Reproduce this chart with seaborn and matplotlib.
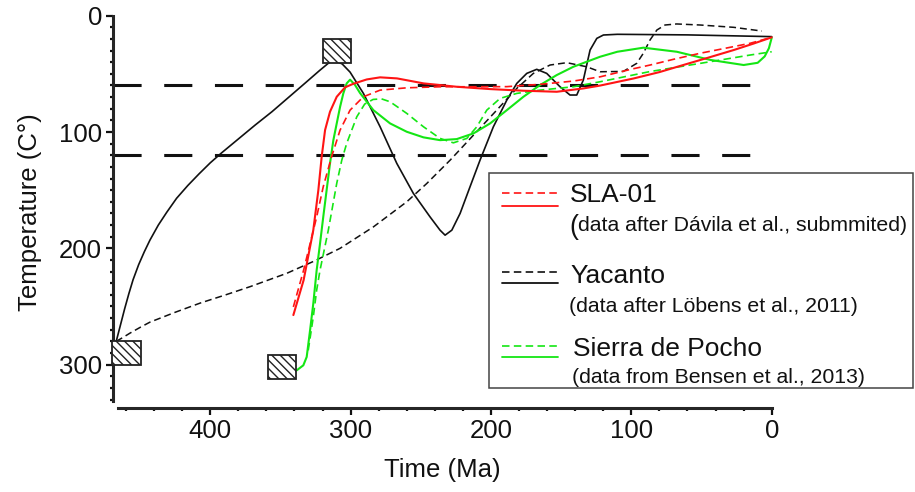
import matplotlib
matplotlib.use("Agg")
import matplotlib.pyplot as plt
from matplotlib.patches import Rectangle
from matplotlib.lines import Line2D
from matplotlib.ticker import MultipleLocator
import pandas as pd
import seaborn as sns

# t-T paths: time (Ma) and temperature (C)
sla_dash_t = [340.8, 333.5, 324.2, 319.5, 313.5, 307.5, 300.4, 290.9, 279, 260, 236.3, 212.5, 188.7, 165, 141.3, 122, 100, 86.6, 70, 51, 33, 15.3, 0]
sla_dash_T = [250.4, 218.8, 173, 147, 121, 98.3, 81.2, 69.7, 64, 62, 61.1, 61.1, 61, 59, 56.2, 52.5, 46, 42.4, 37.5, 32.3, 28, 23.7, 18.6]

sla_sol_t = [340.8, 333.5, 326.6, 323, 320.6, 318.2, 314.7, 309.9, 304, 298, 288.5, 279, 267, 248, 224.4, 200.6, 176.9, 153.1, 134, 122, 98.5, 80, 63, 45, 27, 13, 0]
sla_sol_T = [257.4, 227.4, 184.4, 150, 121, 98.3, 82.6, 69.7, 61.6, 58.5, 54.8, 53, 53.9, 58.2, 61.1, 63.1, 64.5, 65.4, 62.5, 60, 54, 48.5, 42.4, 36, 29.5, 24, 18.6]

yac_dash_t = [467, 462, 457.3, 450, 443, 425, 407, 389, 371.7, 345.5, 326, 307.5, 283.8, 260, 245.7, 229.1, 212.5, 195.9, 181.6, 169.8, 157.9, 146, 131.8, 122.3, 105.7, 96.2, 91.5, 86.7, 81.8, 76, 67.7, 51, 27, 7]
yac_dash_T = [280, 276.5, 273, 268, 263.5, 255, 247, 240, 233, 221.5, 211, 200, 181.6, 160, 144.2, 124.2, 102.7, 81.2, 62.5, 49.6, 42.4, 40.4, 43.9, 48.2, 47.9, 41, 32.4, 20.9, 12.3, 8, 7.1, 8, 10, 13.2]

yac_sol_t = [467, 464, 461, 458, 455, 451, 447, 443, 437, 431, 424, 416, 408, 400, 392, 380, 368, 356, 344, 332, 322, 316, 312, 306, 300.4, 290.9, 279, 267.1, 255.3, 243.4, 236.3, 232.7, 227.9, 222, 214.9, 207.8, 198.3, 188.7, 181.6, 174.5, 167.4, 160.3, 150.8, 143.7, 138.9, 134.2, 129.4, 124.6, 119.9, 110, 60, 0]
yac_sol_T = [280, 266, 252, 239, 227, 214, 203, 193, 180, 169, 157, 146, 136, 126.5, 118, 106, 94, 82.5, 70, 57.5, 47, 41, 38, 41.5, 48.5, 66.8, 95.5, 127, 152.8, 173, 184.4, 188.7, 184.4, 170, 147, 124.2, 95.5, 72.5, 58.2, 49.6, 46.1, 49.6, 61.1, 68.2, 68.2, 55.3, 29.5, 19.5, 16.6, 16, 16.5, 18]

poc_dash_t = [330.2, 326.6, 324.2, 321.8, 315.9, 309.9, 306.3, 302.8, 295.6, 290, 284, 278, 271.9, 260, 248.1, 236.3, 226.8, 217.2, 210.1, 203, 193.5, 181.6, 165, 141.3, 122.3, 86.6, 51, 15.3, 0]
poc_dash_T = [287.7, 259, 236, 218.8, 184.4, 144.2, 124.2, 109.8, 86.9, 76, 72, 71.5, 74, 84, 95.5, 105.5, 109.3, 105.5, 95.5, 81.2, 71.1, 66.8, 64, 61.1, 56.8, 48, 41, 33.8, 31]

poc_sol_t = [338.4, 333.7, 331.3, 328.9, 326.6, 324.2, 321.8, 319.5, 317.1, 314.7, 312.3, 309.9, 307.5, 305.2, 302.8, 300.4, 296.9, 293.3, 283.8, 271.9, 260, 248.1, 236.3, 224.4, 212.5, 200.6, 188.7, 176.9, 165, 153.1, 141.3, 122.3, 110, 91.4, 67.6, 43.8, 20, 10, 5, 2, 0]
poc_sol_T = [304.9, 300.6, 293.4, 270.5, 247.5, 218.8, 195.9, 173, 150, 127, 107, 92.6, 78.3, 66.8, 58.2, 55, 59.5, 66.5, 81.2, 92.6, 99.8, 104.6, 107, 106.1, 101.2, 92.6, 81.2, 69.7, 59.6, 51, 43.9, 35.3, 31, 27.5, 31, 38, 42.4, 40.5, 35, 28, 19]

# hatched constraint boxes (centre time, centre temperature)
box_t = [459.7, 349, 309.7]
box_T = [290.3, 302, 30.3]
box_w, box_h = 20, 20.5

# reference isotherms
iso_T = [60, 120]
iso_span = [469.3, 10.5]

RED = "#ff1414"
GREEN = "#14e614"
BLACK = "#111111"

sns.set_theme(style="ticks")
plt.rcParams["font.family"] = ["Liberation Sans", "DejaVu Sans"]
plt.rcParams["hatch.linewidth"] = 1.0

W, H = 915, 492
fig = plt.figure(figsize=(W / 100, H / 100), dpi=100)
ax = fig.add_axes([113 / W, 1 - 408 / H, (771.7 - 113) / W, (408 - 15.7) / H])

for T in iso_T:
    ax.plot(iso_span, [T, T], color=BLACK, lw=2.2, dashes=(9.2, 7.4), zorder=1)

series = [
    (yac_dash_t, yac_dash_T, BLACK, True, 1.1),
    (yac_sol_t, yac_sol_T, BLACK, False, 1.2),
    (poc_dash_t, poc_dash_T, GREEN, True, 1.2),
    (poc_sol_t, poc_sol_T, GREEN, False, 1.5),
    (sla_dash_t, sla_dash_T, RED, True, 1.2),
    (sla_sol_t, sla_sol_T, RED, False, 1.5),
]
for t, T, col, dashed, lw in series:
    df = pd.DataFrame({"t": t, "T": T})
    sns.lineplot(data=df, x="t", y="T", ax=ax, sort=False, estimator=None,
                 color=col, lw=lw, zorder=3, clip_on=False)
    if dashed:
        ax.lines[-1].set_dashes((4.5, 2.6))

for t, T in zip(box_t, box_T):
    ax.add_patch(Rectangle((t + box_w / 2, T + box_h / 2), -box_w, -box_h,
                           facecolor="white", edgecolor="#222222", lw=1.3,
                           hatch="\\\\\\\\", zorder=5, clip_on=False))

ax.set_xlim(469.3, 0)
ax.set_ylim(337.3, 0)
ax.set_xticks([400, 300, 200, 100, 0])
ax.set_yticks([0, 100, 200, 300])
ax.xaxis.set_minor_locator(MultipleLocator(20))
ax.yaxis.set_minor_locator(MultipleLocator(10))
ax.spines["top"].set_visible(False)
ax.spines["right"].set_visible(False)
ax.spines["left"].set_linewidth(2.2)
ax.spines["bottom"].set_linewidth(2.2)
ax.spines["bottom"].set_bounds(466, 0)
ax.spines["left"].set_bounds(0, 331.5)
ax.tick_params(which="major", length=5, width=1.6, labelsize=18.5, pad=3, color=BLACK, labelcolor=BLACK)
ax.tick_params(which="minor", length=2.5, width=1.6, color=BLACK)
ax.set_xlabel("Time (Ma)", fontsize=18.5, labelpad=11, color=BLACK)
ax.set_ylabel("Temperature (C°)", fontsize=18.5, labelpad=12, color=BLACK)
ax.grid(False)

# hand-built legend in pixel coordinates
ov = fig.add_axes([0, 0, 1, 1], zorder=10)
ov.set_xlim(0, W)
ov.set_ylim(H, 0)
ov.axis("off")
ov.patch.set_alpha(0)
ov.add_patch(Rectangle((489, 173), 424, 215, facecolor="white", edgecolor="#444444", lw=1.1))

entries = [
    (RED, 193.3, 205.7, "SLA-01", 201.7, "data after Dávila et al., submmited)", 231),
    (BLACK, 272.3, 283.3, "Yacanto", 283.3, "(data after Löbens et al., 2011)", 311.7),
    (GREEN, 346, 357.3, "Sierra de Pocho", 356, "(data from Bensen et al., 2013)", 382.7),
]
for i, (col, yd, ys, name, yb, src, ysb) in enumerate(entries):
    ov.add_line(Line2D([501.5, 557.5], [yd, yd], color=col, lw=1.2, dashes=(4.5, 2.6)))
    ov.add_line(Line2D([501.5, 557.5], [ys, ys], color=col, lw=1.3))
    xn = 573 if i == 2 else 570
    ov.text(xn, yb, name, fontsize=19, va="baseline", ha="left", color=BLACK)
    if i == 0:
        ov.text(569, ysb + 3, "(", fontsize=19.5, va="baseline", ha="left", color=BLACK)
        ov.text(578, ysb, src, fontsize=15.3, va="baseline", ha="left", color=BLACK)
    else:
        ov.text(569 if i == 1 else 572, ysb, src, fontsize=15.3, va="baseline", ha="left", color=BLACK)

fig.savefig("out.png", dpi=100)
